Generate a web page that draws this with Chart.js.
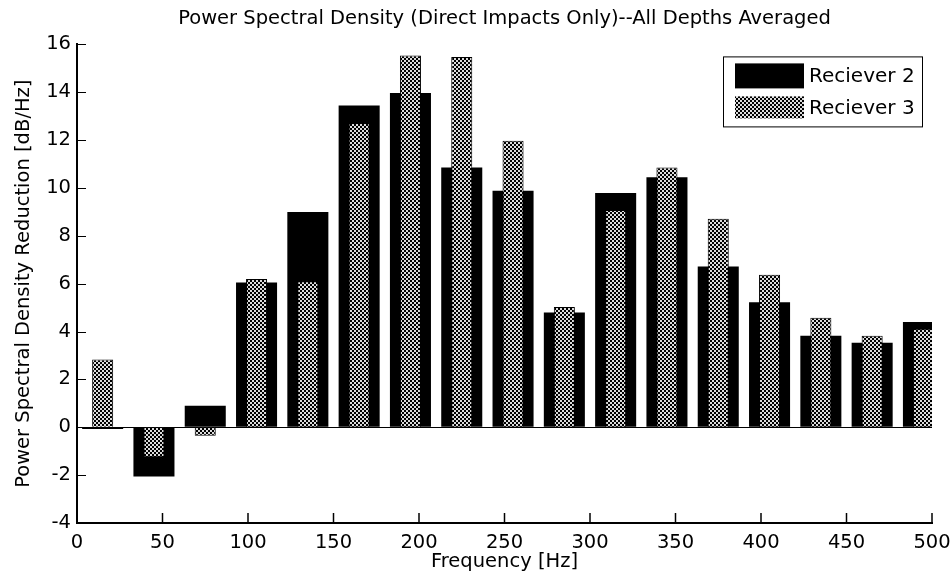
<!DOCTYPE html>
<html><head><meta charset="utf-8">
<script src="https://cdn.jsdelivr.net/npm/chart.js@4.4.1/dist/chart.umd.min.js"></script>
<style>html,body{margin:0;padding:0;background:#fff}#wrap{width:951px;height:588px}</style>
</head><body><div id="wrap"><canvas id="c" width="951" height="588"></canvas></div>
<script>
const chartTitle = 'Power Spectral Density (Direct Impacts Only)--All Depths Averaged';
const xTitle = 'Frequency [Hz]';
const yTitle = 'Power Spectral Density Reduction [dB/Hz]';
const frequencies = [15, 45, 75, 105, 135, 165, 195, 225, 255, 285, 315, 345, 375, 405, 435, 465, 495];
const receiver2 = [-0.07, -2.06, 0.9, 6.05, 9.0, 13.45, 13.97, 10.86, 9.88, 4.8, 9.79, 10.45, 6.72, 5.23, 3.82, 3.53, 4.4];
const receiver3 = [2.83, -1.25, -0.35, 6.2, 6.1, 12.72, 15.54, 15.47, 11.97, 5.03, 9.08, 10.86, 8.71, 6.37, 4.58, 3.82, 4.12];
const seriesLabels = ['Reciever 2', 'Reciever 3'];
const xTickValues = [0, 50, 100, 150, 200, 250, 300, 350, 400, 450, 500];
const yTickValues = [-4, -2, 0, 2, 4, 6, 8, 10, 12, 14, 16];

function makePattern() {
  const c = document.createElement('canvas');
  c.width = 4; c.height = 4;
  const g = c.getContext('2d');
  g.fillStyle = '#000'; g.fillRect(0, 0, 4, 4);
  g.fillStyle = '#dcdcdc'; g.fillRect(0, 0, 2, 2); g.fillRect(2, 2, 2, 2);
  return g.createPattern(c, 'repeat');
}
const checker = makePattern();

Chart.defaults.font.family = 'DejaVu Sans';
Chart.defaults.font.size = 19.5;
Chart.defaults.color = '#000';

const inwardTicks = {
  id: 'inwardTicks',
  afterDatasetsDraw(chart) {
    const {ctx, chartArea, scales: {x, y}} = chart;
    ctx.save();
    ctx.strokeStyle = '#000';
    ctx.lineWidth = 1.5;
    x.ticks.forEach(t => {
      const px = x.getPixelForValue(t.value);
      ctx.beginPath(); ctx.moveTo(px, chartArea.bottom); ctx.lineTo(px, chartArea.bottom - 10); ctx.stroke();
    });
    ctx.lineWidth = 1;
    y.ticks.forEach(t => {
      const py = Math.round(y.getPixelForValue(t.value)) + 0.5;
      ctx.beginPath(); ctx.moveTo(chartArea.left, py); ctx.lineTo(chartArea.left + 9, py); ctx.stroke();
    });
    ctx.restore();
  }
};

const boxLegend = {
  id: 'boxLegend',
  afterDraw(chart) {
    const {ctx, chartArea} = chart;
    const w = 200, h = 71;
    const left = chartArea.right - 9 - w, top = chartArea.top + 12;
    ctx.save();
    ctx.fillStyle = '#fff';
    ctx.fillRect(left, top, w, h);
    ctx.strokeStyle = '#000';
    ctx.lineWidth = 1;
    ctx.strokeRect(left + 0.5, top + 0.5, w - 1, h - 1);
    const rows = [{y: top + 7, h: 25}, {y: top + 40, h: 22}];
    chart.data.datasets.forEach((ds, i) => {
      const r = rows[i];
      ctx.fillStyle = ds.backgroundColor;
      ctx.fillRect(left + 12, r.y, 69, r.h);
      ctx.fillStyle = '#000';
      ctx.font = '20px "DejaVu Sans"';
      ctx.textBaseline = 'middle';
      ctx.textAlign = 'left';
      ctx.fillText(ds.label, left + 86, r.y + r.h / 2 + 1);
    });
    ctx.restore();
  }
};

new Chart(document.getElementById('c'), {
  type: 'bar',
  data: {
    datasets: [
      {
        label: seriesLabels[0],
        data: frequencies.map((f, i) => ({x: f, y: receiver2[i]})),
        backgroundColor: '#000',
        borderWidth: 0,
        barPercentage: 0.8,
        categoryPercentage: 1,
        grouped: false,
        order: 1,
        clip: 0
      },
      {
        label: seriesLabels[1],
        data: frequencies.map((f, i) => ({x: f, y: receiver3[i]})),
        backgroundColor: checker,
        borderColor: '#000',
        borderWidth: 1,
        barPercentage: 0.41,
        categoryPercentage: 1,
        grouped: false,
        order: 0,
        clip: 0
      }
    ]
  },
  options: {
    responsive: false,
    animation: false,
    events: [],
    layout: {padding: {left: 0, right: 19, top: 0, bottom: 0}},
    plugins: {
      legend: {display: false},
      tooltip: {enabled: false},
      title: {display: true, fullSize: false, text: chartTitle, color: '#000', font: {size: 19.5, weight: 'normal'}, padding: {top: 7, bottom: 14}}
    },
    scales: {
      x: {
        type: 'linear', min: 0, max: 500, offset: false,
        afterBuildTicks: s => { s.ticks = xTickValues.map(v => ({value: v})); },
        ticks: {padding: 8, maxRotation: 0, autoSkip: false, color: '#000'},
        grid: {color: 'rgba(0,0,0,0)', drawTicks: false},
        border: {display: true, color: '#000', width: 2},
        title: {display: true, text: xTitle, color: '#000', padding: {top: 0, bottom: 14}},
        afterFit: s => { s.height = 65; s.paddingLeft = 0; s.paddingRight = 0; }
      },
      y: {
        min: -4, max: 16,
        afterBuildTicks: s => { s.ticks = yTickValues.map(v => ({value: v})); },
        ticks: {padding: 6, color: '#000'},
        grid: {drawTicks: false, lineWidth: 1, color: c => (c.tick && c.tick.value === 0) ? '#000' : 'rgba(0,0,0,0)'},
        border: {display: true, color: '#000', width: 2},
        title: {display: true, text: yTitle, color: '#000', padding: {top: 12, bottom: 0}},
        afterFit: s => { s.width = 77; s.paddingTop = 0; s.paddingBottom = 0; }
      }
    }
  },
  plugins: [inwardTicks, boxLegend]
});
</script></body></html>
